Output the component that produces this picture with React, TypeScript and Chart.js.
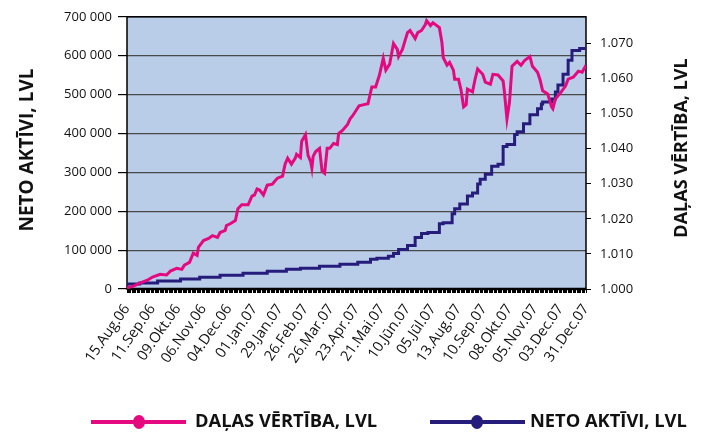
import React, { useEffect, useRef } from "react";
import { Chart, registerables } from "chart.js";

Chart.register(...registerables);

// Tick labels every 20 trading days
const dateLabels = [
  "15.Aug.06", "11.Sep.06", "09.Okt.06", "06.Nov.06", "04.Dec.06", "01.Jan.07",
  "29.Jan.07", "26.Feb.07", "26.Mar.07", "23.Apr.07", "21.Mai.07", "10.Jūn.07",
  "05.Jūl.07", "13.Aug.07", "10.Sep.07", "08.Okt.07", "05.Nov.07", "03.Dec.07", "31.Dec.07",
];
const daysPerLabel = 20;
const totalDays = 360;

// DAĻAS VĒRTĪBA (unit value, right axis): trading-day index and value
const unitDay = [
  0, 5, 10, 16, 20, 26, 31, 34, 39, 43, 45, 49, 52, 55, 56, 60, 64, 67, 71, 73,
  77, 78, 81, 85, 87, 90, 95, 98, 100, 102, 104, 107, 110, 114, 116, 118, 122, 124, 126, 129,
  132, 133, 136, 137, 140, 142, 144, 145, 146, 148, 151, 153, 155, 157, 159, 162, 165, 166, 169, 173,
  175, 177, 180, 182, 185, 189, 192, 195, 198, 201, 203, 206, 209, 212, 213, 216, 220, 222, 226, 228,
  231, 234, 235, 238, 240, 243, 245, 247, 248, 251, 253, 256, 257, 260, 262, 264, 266, 267, 271, 273,
  275, 279, 281, 285, 287, 291, 295, 296, 298, 300, 302, 306, 309, 312, 316, 318, 322, 324, 326, 330,
  333, 334, 336, 340, 344, 346, 350, 354, 357, 360,
];
const unitValue = [
  1.0003, 1.0008, 1.0017, 1.0025, 1.0034, 1.0042, 1.004, 1.0051, 1.0059, 1.0056,
  1.0068, 1.0076, 1.0102, 1.0096, 1.0119, 1.0138, 1.0144, 1.0152, 1.0147, 1.0161,
  1.0167, 1.0181, 1.0186, 1.0195, 1.0229, 1.024, 1.024, 1.0265, 1.0268, 1.0285,
  1.0282, 1.0268, 1.0296, 1.0299, 1.0308, 1.0316, 1.0322, 1.0356, 1.0373, 1.0356,
  1.0373, 1.0384, 1.0375, 1.0421, 1.044, 1.0381, 1.0364, 1.0344, 1.0378, 1.0392,
  1.0401, 1.0336, 1.033, 1.0401, 1.0401, 1.0415, 1.0412, 1.0443, 1.0452, 1.0469,
  1.0485, 1.0494, 1.0511, 1.0522, 1.0525, 1.0528, 1.0576, 1.0576, 1.061, 1.0658,
  1.0624, 1.0641, 1.07, 1.0683, 1.0663, 1.0683, 1.0731, 1.0737, 1.0714, 1.0731,
  1.0737, 1.0754, 1.0765, 1.0751, 1.0759, 1.0751, 1.0745, 1.0703, 1.066, 1.0638,
  1.0646, 1.0624, 1.0598, 1.0598, 1.0567, 1.0519, 1.0525, 1.057, 1.0562, 1.0598,
  1.0627, 1.0612, 1.059, 1.0584, 1.0612, 1.061, 1.0593, 1.0562, 1.0485, 1.0533,
  1.0635, 1.0649, 1.0638, 1.0652, 1.0663, 1.0635, 1.0618, 1.0596, 1.0565, 1.0556,
  1.0519, 1.0514, 1.0542, 1.0559, 1.0579, 1.0598, 1.0604, 1.0621, 1.0618, 1.0638,
];

// NETO AKTĪVI (net assets, left axis): trading-day index and value
const assetsDay = [
  0, 10, 24, 42, 57, 73, 91, 110, 125, 136, 151, 167, 181, 191, 196, 205, 209, 213, 220, 226,
  231, 236, 245, 248, 255, 257, 261, 267, 271, 275, 277, 281, 286, 291, 295, 298, 304, 306, 311, 316,
  322, 325, 326, 333, 336, 338, 342, 346, 349, 351, 355, 360,
];
const assetsValue = [
  5000, 12700, 15300, 20400, 25500, 30500, 35600, 40700, 45800, 50900,
  53500, 58500, 63600, 68700, 76400, 78900, 84000, 91600, 101800, 112000,
  132400, 142500, 145100, 168000, 170500, 193500, 206200, 218900, 239300, 246900,
  269800, 282500, 295300, 315600, 320700, 366500, 371600, 397100, 404700, 425100,
  448000, 463300, 476000, 481100, 488700, 506500, 524400, 552400, 588000, 613500,
  613500, 618500,
];

const leftTitle = "NETO AKTĪVI, LVL";
const rightTitle = "DAĻAS VĒRTĪBA, LVL";
const PINK = "#E5097F";
const NAVY = "#261C7C";
const FONT = "'Open Sans', sans-serif";

const decorPlugin = {
  id: "decor",
  beforeDraw(chart: any) {
    const { ctx, chartArea: a } = chart;
    ctx.save();
    ctx.fillStyle = "#B9CCE8";
    ctx.fillRect(a.left, a.top, a.right - a.left, a.bottom - a.top);
    ctx.restore();
  },
  beforeDatasetsDraw(chart: any) {
    const { ctx, chartArea: a } = chart;
    ctx.save();
    ctx.strokeStyle = "#000";
    ctx.lineWidth = 1.5;
    ctx.strokeRect(a.left, a.top, a.right - a.left, a.bottom - a.top);
    ctx.lineWidth = 2.5;
    ctx.beginPath();
    ctx.moveTo(a.left, a.bottom);
    ctx.lineTo(a.right, a.bottom);
    ctx.stroke();
    ctx.restore();
  },
  afterDraw(chart: any) {
    const { ctx } = chart;
    const drawTitle = (text: string, x: number, y: number, size: number) => {
      ctx.save();
      ctx.fillStyle = "#111";
      ctx.font = `bold ${size}px ${FONT}`;
      ctx.textAlign = "center";
      ctx.textBaseline = "middle";
      ctx.translate(x, y);
      ctx.rotate(-Math.PI / 2);
      ctx.fillText(text, 0, 0);
      ctx.restore();
    };
    drawTitle(leftTitle, 28, 150, 19);
    drawTitle(rightTitle, 682, 148, 18);

    const items = [
      { label: rightTitle, color: PINK, x0: 91, x1: 186, cx: 139, tx: 195 },
      { label: leftTitle, color: NAVY, x0: 430, x1: 525, cx: 477, tx: 530 },
    ];
    const y = 422;
    items.forEach((it) => {
      ctx.save();
      ctx.strokeStyle = it.color;
      ctx.lineWidth = 4;
      ctx.beginPath();
      ctx.moveTo(it.x0, y);
      ctx.lineTo(it.x1, y);
      ctx.stroke();
      ctx.fillStyle = it.color;
      ctx.beginPath();
      ctx.ellipse(it.cx, y, 6, 7, 0, 0, Math.PI * 2);
      ctx.fill();
      ctx.fillStyle = "#111";
      ctx.font = `bold 18.3px ${FONT}`;
      ctx.textAlign = "left";
      ctx.textBaseline = "middle";
      ctx.fillText(it.label, it.tx, y);
      ctx.restore();
    });
  },
};

export default function App() {
  const ref = useRef<HTMLCanvasElement | null>(null);

  useEffect(() => {
    if (!ref.current) return;
    const unitData = unitDay.map((d, i) => ({ x: d, y: unitValue[i] }));
    const assetsData = assetsDay.map((d, i) => ({ x: d, y: assetsValue[i] }));
    const chart = new Chart(ref.current, {
      type: "line",
      data: {
        datasets: [
          {
            label: rightTitle,
            data: unitData,
            yAxisID: "y1",
            borderColor: PINK,
            borderWidth: 3,
            pointRadius: 0,
            tension: 0,
          },
          {
            label: leftTitle,
            data: assetsData,
            yAxisID: "y",
            borderColor: NAVY,
            borderWidth: 3,
            pointRadius: 0,
            stepped: "after",
          },
        ],
      },
      options: {
        animation: false,
        responsive: true,
        maintainAspectRatio: false,
        parsing: false as any,
        layout: { padding: { top: 14, left: 0, right: 0, bottom: 0 } },
        plugins: { legend: { display: false }, tooltip: { enabled: false } },
        scales: {
          x: {
            type: "linear",
            min: 0,
            max: totalDays,
            afterFit: (s: any) => {
              s.height = 148;
            },
            border: { display: false },
            grid: {
              drawOnChartArea: false,
              drawTicks: true,
              tickLength: 4,
              tickColor: "#000",
              color: "#000",
            },
            ticks: {
              stepSize: 1,
              autoSkip: false,
              minRotation: 55,
              maxRotation: 55,
              padding: 8,
              color: "#111",
              font: { family: FONT, size: 14.5 },
              callback: (v: any) =>
                Number(v) % daysPerLabel === 0 ? dateLabels[Number(v) / daysPerLabel] : "",
            },
          },
          y: {
            position: "left",
            min: 0,
            max: 700000,
            afterFit: (s: any) => {
              s.width = 127;
            },
            border: { display: false },
            grid: {
              color: "#4a4a4a",
              lineWidth: 1.2,
              tickLength: 9,
              tickColor: "#000",
            },
            ticks: {
              stepSize: 100000,
              padding: 6,
              color: "#111",
              font: { family: FONT, size: 13 },
              callback: (v: any) => String(v).replace(/\B(?=(\d{3})+(?!\d))/g, " "),
            },
          },
          y1: {
            position: "right",
            min: 1.0,
            max: 1.0776,
            afterFit: (s: any) => {
              s.width = 116;
            },
            border: { display: false },
            grid: {
              drawOnChartArea: false,
              tickLength: 5,
              tickColor: "#000",
            },
            ticks: {
              stepSize: 0.01,
              includeBounds: false,
              padding: 9,
              color: "#111",
              font: { family: FONT, size: 13 },
              callback: (v: any) => Number(v).toFixed(3),
            },
          },
        },
      },
      plugins: [decorPlugin],
    });
    return () => chart.destroy();
  }, []);

  return (
    <div style={{ position: "absolute", left: 0, top: 0, width: 702, height: 437, background: "#fff" }}>
      <canvas ref={ref} />
    </div>
  );
}
